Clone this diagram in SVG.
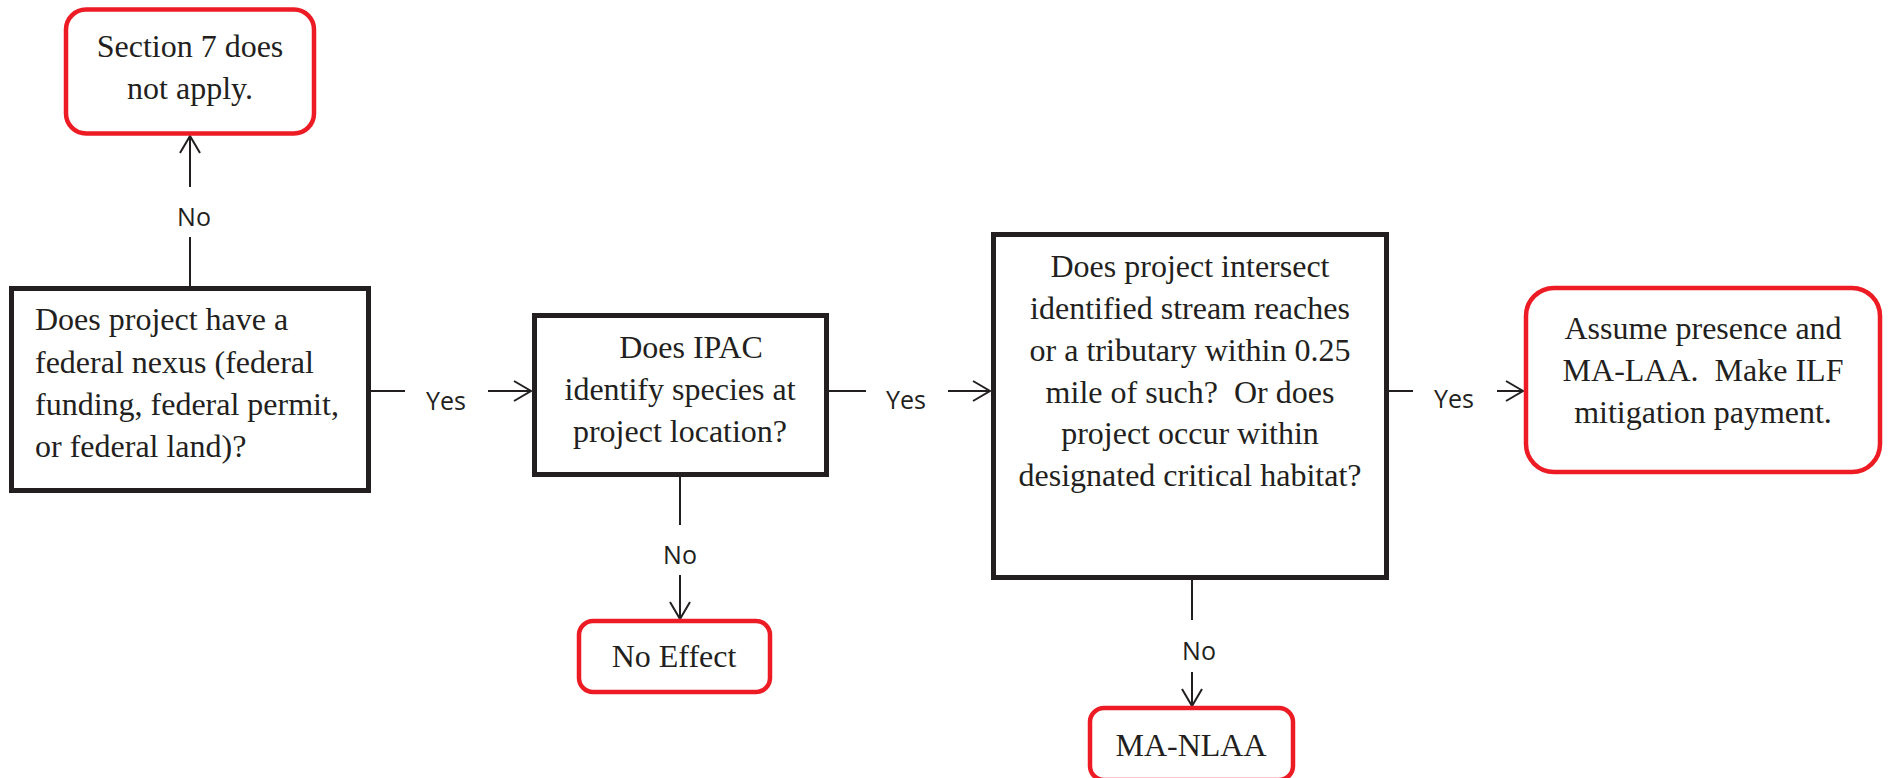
<svg xmlns="http://www.w3.org/2000/svg" width="1893" height="778" viewBox="0 0 1893 778">
<style>
.q{fill:#fff;stroke:#231f20;stroke-width:5}
.t{fill:#fff;stroke:#ed1c24;stroke-width:4.5}
.tx{font-family:"Liberation Serif","Times New Roman",serif;font-size:32px;fill:#231f20}
.c{text-anchor:middle}
.lb{font-family:"Open Sans","Liberation Sans",sans-serif;font-size:25px;fill:#231f20;text-anchor:middle}
.ln{stroke:#231f20;stroke-width:2;fill:none}
</style>
<defs>
<marker id="arr" markerUnits="userSpaceOnUse" markerWidth="24" markerHeight="24" viewBox="-20 -12 24 24" refX="0" refY="0" orient="auto">
<path d="M-17,-10 L0,0 L-17,10" fill="none" stroke="#231f20" stroke-width="2"/>
</marker>
</defs>
<rect width="1893" height="778" fill="#fff"/>
<g id="connectors">
<line class="ln" x1="190" y1="286" x2="190" y2="237"/>
<line class="ln" x1="190" y1="187" x2="190" y2="136" marker-end="url(#arr)"/>
<text class="lb" x="194" y="226">No</text>
<line class="ln" x1="371" y1="391" x2="405" y2="391"/>
<line class="ln" x1="488" y1="391" x2="531" y2="391" marker-end="url(#arr)"/>
<text class="lb" x="446" y="410">Yes</text>
<line class="ln" x1="829" y1="391" x2="866" y2="391"/>
<line class="ln" x1="948" y1="391" x2="990" y2="391" marker-end="url(#arr)"/>
<text class="lb" x="906" y="409">Yes</text>
<line class="ln" x1="1389" y1="391" x2="1413" y2="391"/>
<line class="ln" x1="1497" y1="391" x2="1523" y2="391" marker-end="url(#arr)"/>
<text class="lb" x="1454" y="408">Yes</text>
<line class="ln" x1="680" y1="477" x2="680" y2="525"/>
<line class="ln" x1="680" y1="575" x2="680" y2="619" marker-end="url(#arr)"/>
<text class="lb" x="680" y="564">No</text>
<line class="ln" x1="1192" y1="580" x2="1192" y2="620"/>
<line class="ln" x1="1192" y1="672" x2="1192" y2="706" marker-end="url(#arr)"/>
<text class="lb" x="1199" y="660">No</text>
</g>
<g id="section7">
<rect class="t" x="66" y="9.5" width="248" height="124" rx="20"/>
<text class="tx c" x="190" y="57">Section 7 does</text>
<text class="tx c" x="190" y="99">not apply.</text>
</g>
<g id="nexus">
<rect class="q" x="11.5" y="288.5" width="357" height="202"/>
<text class="tx" x="35" y="330">Does project have a</text>
<text class="tx" x="35" y="373">federal nexus (federal</text>
<text class="tx" x="35" y="415">funding, federal permit,</text>
<text class="tx" x="35" y="457">or federal land)?</text>
</g>
<g id="ipac">
<rect class="q" x="534.5" y="315.5" width="292" height="159"/>
<text class="tx c" x="691" y="358">Does IPAC</text>
<text class="tx c" x="680" y="400">identify species at</text>
<text class="tx c" x="680" y="442">project location?</text>
</g>
<g id="noeffect">
<rect class="t" x="579" y="621" width="191" height="71" rx="14"/>
<text class="tx c" x="674" y="667">No Effect</text>
</g>
<g id="stream">
<rect class="q" x="993.5" y="234.5" width="393" height="343"/>
<text class="tx c" x="1190" y="277">Does project intersect</text>
<text class="tx c" x="1190" y="319">identified stream reaches</text>
<text class="tx c" x="1190" y="361">or a tributary within 0.25</text>
<text class="tx c" x="1190" y="403" xml:space="preserve">mile of such?  Or does</text>
<text class="tx c" x="1190" y="444">project occur within</text>
<text class="tx c" x="1190" y="486">designated critical habitat?</text>
</g>
<g id="manlaa">
<rect class="t" x="1090" y="708" width="203" height="72" rx="14"/>
<text class="tx c" x="1191" y="756">MA-NLAA</text>
</g>
<g id="malaa">
<rect class="t" x="1526" y="288" width="354" height="184" rx="28"/>
<text class="tx c" x="1703" y="339">Assume presence and</text>
<text class="tx c" x="1703" y="381" xml:space="preserve">MA-LAA.  Make ILF</text>
<text class="tx c" x="1703" y="423">mitigation payment.</text>
</g>
</svg>
